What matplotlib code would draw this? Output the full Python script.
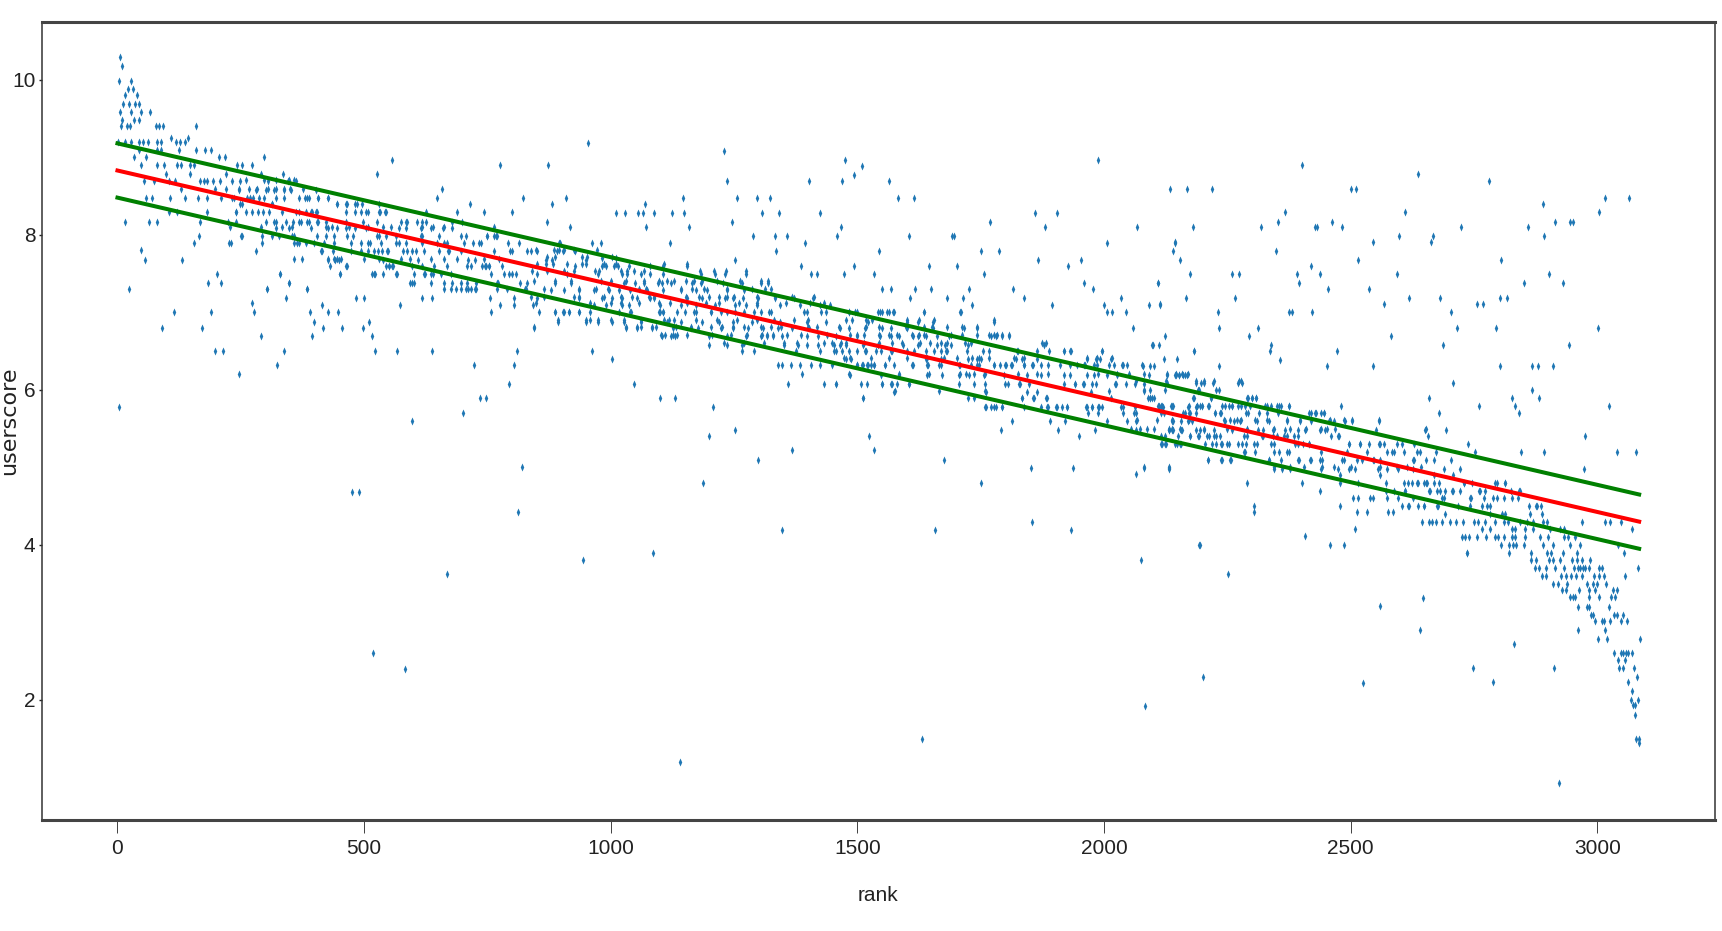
import matplotlib
matplotlib.use('Agg')
import matplotlib.pyplot as plt

# points, grouped by score row: (score, [ranks])
head_rows = [
    (10.30, [5]), (10.18, [9]), (9.99, [3, 27]), (9.88, [32, 21]), (9.81, [39, 15]),
    (9.69, [12, 23, 36, 43]), (9.58, [6, 27, 47, 66]), (9.48, [10, 33, 44]),
    (9.40, [8, 19, 25, 78, 85, 93, 159]),
    (9.25, [109, 144]),
    (9.20, [2, 16, 27, 43, 52, 62, 81, 89, 118, 126, 136]),
    (9.09, [43, 81, 89, 124, 159, 178, 190]),
    (9.00, [33, 58, 206, 218, 297]),
    (8.90, [47, 81, 95, 120, 128, 147, 155, 243, 252, 272]),
    (8.78, [98, 147, 221, 291, 336]),
]

left_rows = [
    (8.70, [54, 74, 105, 116, 167, 175, 182, 194, 208, 233, 248, 306, 345, 361]),
    (8.59, [128, 198, 221, 246, 266, 283, 306, 322, 337, 349, 376]),
    (8.47, [58, 70, 107, 137, 163, 182, 209, 237, 268, 287, 322, 368, 384, 407, 427]),
    (8.40, [248, 314, 446, 465, 485, 496, 531]),
    (8.29, [105, 120, 182, 240, 260, 272, 295, 361, 392, 403, 481, 504, 531, 543, 625]),
    (8.17, [64, 80, 168, 225, 318, 368, 384, 407, 574, 586, 617, 679, 698]),
    (8.10, [229, 291, 334, 353, 423, 434, 469, 508, 539, 555, 617, 640, 663, 764]),
    (7.98, [252, 314, 353, 438, 477, 531, 617, 706, 749, 768]),
    (7.90, [227, 294, 357, 368, 419, 508, 570, 648, 663, 733, 791, 815, 896, 962]),
    (7.79, [415, 508, 528, 547, 586, 605, 671, 795, 838, 850, 892, 904, 927]),
    (7.68, [427, 442, 450, 539, 609, 710, 725, 869, 881, 950]),
    (7.60, [465, 551, 559, 617, 745, 753, 927]),
    (7.49, [452, 520, 539, 567, 624, 640, 784, 799, 850, 912, 974]),
    (7.38, [598, 679, 772, 830, 888, 919]),
    (7.30, [662, 687, 710, 725, 826, 865, 935, 970]),
    (7.18, [756, 803, 850, 935]),
    (7.10, [776, 803, 842, 966]),
    (7.00, [888, 904, 915, 935]),
    (6.88, [894, 950, 974]),
]

mid_rows = [
    (7.70, [983, 1010]),
    (7.60, [983, 991, 1006, 1014, 1037, 1080, 1107]),
    (7.49, [1022, 1034, 1061, 1080, 1107, 1183, 1212, 1231, 1274]),
    (7.38, [1026, 1049, 1068, 1096, 1103, 1123, 1165, 1183, 1228, 1266, 1304, 1318]),
    (7.30, [995, 1057, 1072, 1142, 1165, 1189, 1235, 1286, 1313, 1325]),
    (7.18, [983, 1003, 1022, 1053, 1080, 1088, 1154, 1185, 1231, 1247, 1268, 1299, 1334, 1371, 1410]),
    (7.10, [991, 1022, 1037, 1100, 1142, 1173, 1212, 1251, 1274, 1297, 1344, 1383, 1425, 1445]),
    (7.00, [1041, 1100, 1107, 1150, 1173, 1204, 1235, 1251, 1290, 1321, 1398, 1437, 1484, 1499, 1546, 1561, 1573, 1635]),
    (6.88, [1003, 1026, 1061, 1115, 1142, 1185, 1220, 1247, 1286, 1344, 1398, 1437, 1522, 1600, 1623, 1654]),
    (6.80, [1030, 1053, 1084, 1127, 1162, 1177, 1224, 1247, 1278, 1309, 1340, 1367, 1402, 1464, 1484, 1515, 1550, 1569, 1600, 1654, 1716, 1743]),
    (6.69, [1103, 1123, 1131, 1200, 1235, 1274, 1305, 1317, 1328, 1348, 1398, 1421, 1456, 1499, 1546, 1569, 1584, 1612, 1623, 1639, 1662, 1685, 1771, 1782, 1794, 1808]),
    (6.58, [1200, 1235, 1266, 1352, 1379, 1398, 1421, 1452, 1464, 1476, 1511, 1542, 1592, 1623, 1662, 1677, 1689, 1724, 1879]),
    (6.50, [1266, 1290, 1375, 1425, 1452, 1468, 1515, 1538, 1569, 1600, 1639, 1670, 1681, 1755, 1825, 1918, 1934]),
    (6.40, [1476, 1487, 1639, 1670, 1724, 1743, 1751, 1821, 1833, 1864, 1965, 1984, 1992, 2015]),
    (6.32, [1339, 1348, 1366, 1383, 1406, 1425, 1499, 1511, 1522, 1534, 1557, 1575, 1612, 1643, 1666, 1709, 1743, 1778, 1790, 1802, 1813, 1837, 1856, 1887, 1910, 1945, 1961, 1980, 2011, 2038, 2077]),
    (6.20, [1387, 1484, 1584, 1646, 1709, 1720, 1736, 1759, 1825, 1864, 1887, 1988, 2027, 2050, 2081, 2127, 2147, 2158, 2170]),
    (6.08, [1549, 1569, 1581, 1604, 1759, 1806, 1829, 1848, 1918, 1941, 1957, 1984, 2023, 2062, 2081]),
    (5.98, [1577, 1666, 1759, 2011, 2081, 2190]),
    (5.90, [1724, 1736, 1833, 1856, 1883, 2015, 2089]),
    (5.78, [1759, 1771, 1782, 1794, 1872, 1887, 1902, 1914, 1926, 1965, 1976, 1988, 1996, 2038, 2062, 2112, 2120, 2170, 2186]),
    (5.70, [1968, 1988, 2038, 2065, 2116, 2186]),
    (5.60, [1891, 1922, 2007, 2046, 2065, 2139, 2170]),
    (5.48, [1981, 2065, 2131, 2139, 2158, 2186]),
    (5.40, [2116, 2123, 2151]),
]

right_rows = [
    (6.19, [2146, 2152, 2160, 2168]),
    (6.09, [2127, 2186, 2197, 2203, 2221, 2271, 2279]),
    (6.00, [2094, 2124, 2190, 2227]),
    (5.90, [2094, 2098, 2181, 2216, 2292, 2301, 2308]),
    (5.79, [2109, 2116, 2135, 2140, 2189, 2194, 2199, 2211, 2240, 2253, 2260, 2271, 2285, 2327, 2338, 2351, 2359, 2375, 2480]),
    (5.70, [2160, 2172, 2226, 2238, 2293, 2330, 2353, 2419, 2427, 2441, 2447]),
    (5.60, [2137, 2157, 2179, 2245, 2264, 2275, 2310, 2334, 2371, 2397, 2419, 2456, 2467, 2488, 2502]),
    (5.48, [2131, 2138, 2157, 2194, 2203, 2223, 2260, 2290, 2312, 2323, 2342, 2367, 2393, 2408, 2438, 2449, 2552]),
    (5.40, [2175, 2190, 2209, 2227, 2290, 2323, 2342, 2364, 2386, 2393, 2460, 2475]),
    (5.30, [2116, 2124, 2149, 2157, 2205, 2227, 2238, 2249, 2271, 2279, 2305, 2338, 2393, 2404, 2415, 2497, 2519, 2537, 2559, 2604]),
    (5.20, [2286, 2345, 2371, 2441, 2574, 2589, 2641, 2674]),
    (5.10, [2211, 2238, 2257, 2334, 2359, 2393, 2418, 2438, 2482, 2523, 2545, 2626, 2670, 2704]),
    (4.98, [2345, 2360, 2378, 2441, 2475, 2497, 2508, 2556, 2574, 2596, 2626, 2689, 2722]),
    (4.90, [2478, 2559, 2670, 2707]),
    (4.80, [2478, 2515, 2571, 2608, 2637, 2652, 2729, 2792, 2814]),
    (4.69, [2571, 2589, 2611, 2659, 2681, 2707, 2763, 2825, 2842]),
    (4.61, [2574, 2596, 2626, 2685, 2744, 2789]),
    (4.50, [2604, 2619, 2648, 2678, 2777, 2862, 2877]),
]

tail_rows = [
    (4.80, [2616, 2624, 2634, 2649, 2655, 2670, 2680, 2729, 2746, 2797, 2813]),
    (4.70, [2611, 2661, 2675, 2692, 2705, 2721, 2761, 2773, 2843]),
    (4.60, [2689, 2743, 2771, 2797, 2810, 2827, 2839]),
    (4.50, [2616, 2637, 2648, 2675, 2717, 2743, 2766, 2783, 2876, 2886]),
    (4.40, [2692, 2782, 2807, 2813, 2863, 2888]),
    (4.30, [2645, 2658, 2666, 2674, 2685, 2701, 2714, 2727, 2751, 2759, 2772, 2792, 2810, 2820, 2844, 2857, 2870, 2890, 2898, 2969, 3015, 3026, 3049]),
    (4.20, [2766, 2782, 2827, 2834, 2854, 2869, 2905, 2924, 2932, 3070]),
    (4.10, [2726, 2731, 2741, 2756, 2775, 2793, 2798, 2812, 2827, 2834, 2854, 2883, 2901, 2932, 2941, 2955]),
    (4.00, [2805, 2822, 2830, 2836, 2851, 2891, 2910, 2944, 2966, 3043]),
    (3.90, [2735, 2822, 2866, 2898, 2906, 2930, 2959, 3055]),
    (3.80, [2866, 2876, 2903, 2911, 2924, 2949, 2959, 2970, 2986]),
    (3.70, [2874, 2881, 2896, 2914, 2933, 2952, 2961, 2966, 2971, 2976, 2984, 3003, 3009, 3082]),
    (3.60, [2888, 2896, 2926, 2936, 2947, 2957, 2969, 2994, 3004, 3013, 3057]),
    (3.50, [2910, 2920, 2938, 2979, 2991, 2999, 3018]),
    (3.42, [2928, 2936, 2964, 2984, 2996, 3032, 3040]),
    (3.33, [2945, 2951, 2955, 2984, 3003, 3028, 3036]),
    (3.20, [2962, 2979, 2983, 3023]),
    (3.10, [2987, 2991, 3033, 3040, 3052]),
    (3.02, [2996, 3009, 3014, 3026, 3048, 3060]),
    (2.90, [3016]),
    (2.79, [3001, 3020, 3086]),
    (2.60, [3034, 3048, 3053, 3059, 3063, 3071]),
    (2.52, [3042, 3057]),
    (2.41, [3045, 3053, 3074]),
    (2.30, [3080]), (2.23, [3063]), (2.12, [3070]),
    (2.00, [3068, 3082]), (1.94, [3072, 3076]), (1.80, [3076]),
    (1.50, [3078, 3084]), (1.44, [3084]),
]

# second pass over the band, from closer crops
band_left = [
    (8.71, [260, 297, 321, 348, 358]),
    (8.58, [246, 280, 301, 317, 338, 351, 402]),
    (8.47, [233, 263, 274, 297, 338, 380, 388, 407, 427]),
    (8.40, [253, 314, 445, 463, 481]),
    (8.29, [240, 284, 307, 334, 368, 382, 395, 405, 463, 493, 508, 532, 544]),
    (8.17, [240, 301, 321, 341, 355, 372, 388, 405, 422, 463, 497, 527, 584, 607, 625]),
    (8.09, [321, 348, 392, 426, 446, 463, 481, 503, 571, 584, 615, 635, 659, 679]),
    (7.99, [250, 294, 328, 358, 405, 422, 466, 527, 544, 564, 615, 652, 696, 750, 764, 770]),
    (7.90, [230, 365, 382, 399, 439, 473, 494, 512, 534, 564, 584, 618, 669, 703, 720, 737]),
    (7.79, [280, 412, 436, 473, 494, 520, 537, 549, 578, 598, 621, 652, 672, 696, 764, 800, 831]),
    (7.69, [358, 375, 426, 439, 446, 453, 500, 530, 574, 594, 635, 662, 689, 743, 773]),
    (7.60, [431, 463, 544, 550, 557, 598, 642, 669, 709, 716, 740, 747, 753, 780]),
    (7.49, [330, 451, 517, 523, 564, 601, 621, 635, 655, 676, 757, 794, 807]),
    (7.38, [348, 594, 601, 635, 662, 696, 709, 726, 770, 817]),
    (7.30, [303, 384, 676, 696, 706, 716, 726, 770, 790, 828]),
]

band_mid = [
    (7.90, [897, 981]),
    (7.81, [848, 885, 895, 905, 925, 973]),
    (7.72, [871, 888, 942, 952, 1003]),
    (7.63, [851, 868, 882, 912, 942, 949, 986, 1010, 1108, 1155]),
    (7.53, [841, 871, 905, 925, 969, 976, 1020, 1034, 1047, 1067, 1182, 1209, 1233, 1274]),
    (7.40, [844, 888, 919, 980, 1000, 1030, 1067, 1098, 1115, 1128, 1152, 1169, 1186, 1216, 1263, 1304, 1318]),
    (7.29, [878, 905, 936, 966, 996, 1017, 1040, 1074, 1105, 1142, 1172, 1196, 1236, 1270]),
    (7.20, [838, 865, 925, 936, 986, 1020, 1044, 1077, 1088, 1152, 1179, 1199, 1219, 1236, 1250, 1297, 1334, 1368, 1412]),
    (7.12, [848, 959, 1000, 1020, 1057, 1098, 1121, 1155, 1193, 1219, 1260, 1297, 1355, 1405, 1432]),
    (7.01, [855, 888, 905, 915, 936, 959, 1017, 1040, 1098, 1105, 1135, 1169, 1203, 1223, 1270, 1304, 1324, 1392, 1426, 1483, 1496, 1542, 1550, 1564, 1574, 1635, 1711]),
    (6.90, [893, 949, 959, 974, 1000, 1027, 1061, 1108, 1118, 1128, 1172, 1216, 1257, 1297, 1331, 1372, 1399, 1476, 1490, 1517, 1530, 1601, 1625, 1655, 1777]),
    (6.81, [844, 1030, 1054, 1061, 1084, 1091, 1132, 1162, 1203, 1226, 1247, 1270, 1304, 1324, 1345, 1399, 1419, 1463, 1517, 1544, 1598, 1635, 1652, 1682, 1713, 1743]),
    (6.71, [1101, 1111, 1127, 1134, 1155, 1206, 1243, 1277, 1307, 1317, 1328, 1358, 1385, 1439, 1486, 1500, 1513, 1544, 1564, 1581, 1611, 1625, 1635, 1689, 1713, 1743, 1767, 1777, 1784, 1794, 1807]),
    (6.60, [1230, 1270, 1311, 1351, 1378, 1432, 1449, 1466, 1476, 1513, 1544, 1571, 1591, 1628, 1648, 1669, 1682, 1719, 1730, 1875, 1882]),
    (6.50, [1456, 1483, 1500, 1517, 1547, 1571, 1615, 1655, 1679, 1723, 1767, 1824, 1865, 1888, 1919, 1932, 1996]),
    (6.41, [1473, 1486, 1527, 1564, 1601, 1642, 1675, 1702, 1733, 1746, 1767, 1817, 1838, 1966, 1986, 2017]),
    (6.32, [1449, 1500, 1510, 1520, 1527, 1533, 1557, 1611, 1642, 1669, 1706, 1730, 1746, 1777, 1800, 1811, 1838, 1855, 1872, 1932, 1959, 1986, 2020, 2037, 2047]),
    (6.19, [1486, 1547, 1584, 1642, 1672, 1706, 1726, 1757, 1797, 1844, 1872, 1919, 1932, 1966, 1980, 2007, 2027]),
    (6.08, [1456, 1508, 1520, 1550, 1571, 1604, 1706, 1736, 1800, 1827, 1942, 1959, 1976, 2024, 2044]),
    (5.97, [1574, 1760, 1844, 1865, 1973]),
    (5.89, [1511, 1834, 1858, 1885]),
    (5.78, [1760, 1777, 1794, 1838, 1885, 1905, 1925, 1963, 1976, 1990, 2034]),
]

band_right = [
    (6.31, [2079, 2093, 2101]),
    (6.19, [2091, 2128, 2145, 2152, 2165]),
    (6.11, [2064, 2125, 2186, 2202, 2223, 2273, 2278]),
    (6.00, [2081, 2192, 2233]),
    (5.90, [2094, 2101, 2182, 2216, 2290, 2300, 2309]),
    (5.79, [2111, 2118, 2138, 2172, 2189, 2199, 2212, 2246, 2260, 2277, 2297, 2331, 2355, 2375]),
    (5.70, [2060, 2121, 2165, 2175, 2226, 2236, 2287, 2314, 2415, 2429, 2446]),
    (5.61, [2067, 2108, 2138, 2172, 2243, 2256, 2270, 2277, 2307, 2331, 2371, 2398, 2459, 2486, 2503, 2557]),
    (5.50, [2054, 2074, 2088, 2101, 2131, 2138, 2155, 2202, 2250, 2290, 2344, 2378, 2409, 2439, 2452, 2469, 2652]),
    (5.40, [2175, 2192, 2212, 2223, 2236, 2284, 2321, 2351, 2371, 2476]),
    (5.30, [2118, 2125, 2145, 2155, 2219, 2240, 2253, 2287, 2311, 2344, 2388, 2415, 2496, 2520, 2557, 2567, 2594, 2628]),
    (5.20, [2284, 2307, 2355, 2375, 2493, 2534, 2584, 2608, 2635]),
    (5.10, [2211, 2240, 2256, 2334, 2395, 2419, 2442, 2486, 2513, 2547, 2560, 2628, 2652]),
    (5.00, [2081, 2131, 2344, 2378, 2405, 2442, 2466, 2500, 2560, 2594, 2615, 2642]),
]

# lone points away from the band
outliers_below = [
    (3, 5.78), (23, 7.3), (15, 8.17), (48, 7.8), (56, 7.68), (90, 6.8), (115, 7.0), (131, 7.68),
    (165, 7.98), (155, 7.9), (172, 6.8), (184, 7.38), (202, 7.5), (209, 7.38), (189, 7.0),
    (198, 6.5), (213, 6.5), (246, 6.2), (272, 7.12), (276, 7.0), (291, 6.7), (303, 7.3),
    (323, 6.32), (330, 7.5), (337, 6.5), (341, 7.18), (348, 7.38), (384, 7.3), (391, 7.0),
    (398, 6.88), (394, 6.7), (415, 7.1), (417, 6.8), (427, 7.0), (447, 7.0), (455, 6.8),
    (484, 7.18), (499, 7.18), (498, 6.8), (510, 6.88), (516, 6.7), (522, 6.5), (567, 6.5),
    (573, 7.1), (597, 5.6), (617, 7.18), (638, 7.18), (638, 6.5), (700, 5.7), (723, 6.32),
    (735, 5.9), (747, 5.9), (758, 7.0), (794, 6.08), (804, 6.32), (810, 6.5), (820, 5.0),
    (845, 6.8), (962, 6.5), (476, 4.68), (490, 4.68), (518, 2.6), (583, 2.4), (668, 3.62),
    (812, 4.42), (944, 3.81), (1003, 6.4), (1047, 6.08), (1100, 5.9), (1131, 5.9), (1207, 5.78),
    (1200, 5.4), (1252, 5.48), (1187, 4.8), (1298, 5.1), (1367, 5.22), (1347, 4.19), (1086, 3.89),
    (1524, 5.4), (1533, 5.22), (1512, 5.9), (1675, 5.1), (1750, 4.8), (1657, 4.19), (1852, 4.99),
    (1937, 4.99), (2065, 4.91), (2081, 4.99), (2131, 4.99), (1854, 4.3), (1934, 4.19), (2075, 3.81),
    (1791, 5.48), (1813, 5.6), (1949, 5.4), (1906, 5.48), (1359, 6.08), (1432, 6.08), (1456, 6.08),
    (2193, 4.0), (1141, 1.2), (1632, 1.5), (2083, 1.92), (2200, 2.3), (2252, 3.62),
    (2132, 4.98), (2290, 4.8), (2304, 4.5), (2304, 4.43), (2401, 4.8), (2438, 4.69), (2478, 4.5),
    (2508, 4.2), (2194, 4.0), (2407, 4.11), (2458, 4.0), (2486, 4.0), (2512, 4.42), (2534, 4.42),
    (2576, 4.42), (2585, 4.42), (2505, 4.61), (2514, 4.61), (2540, 4.61), (2545, 4.61), (2735, 3.9),
    (2646, 3.32), (2640, 2.9), (2749, 2.41), (2788, 2.23), (2832, 2.72), (2913, 2.41), (2922, 0.93),
    (2962, 2.9), (2525, 2.22), (2560, 3.21),
]

outliers_above = [
    (526, 8.78), (556, 8.96), (648, 8.47), (658, 8.59), (715, 8.4), (743, 8.29), (775, 8.9),
    (822, 8.47), (800, 8.29), (873, 8.9), (881, 8.4), (870, 8.17), (909, 8.47), (918, 8.1),
    (954, 9.19), (688, 8.29),
    (1229, 9.08), (1235, 8.7), (1474, 8.97), (1493, 8.77), (1509, 8.89), (1402, 8.7), (1469, 8.7),
    (1564, 8.7), (1988, 8.97), (2134, 8.59), (2168, 8.59), (1069, 8.4), (1146, 8.47), (1256, 8.47),
    (1297, 8.47), (1323, 8.47), (1582, 8.47), (1615, 8.47), (1011, 8.28), (1029, 8.28), (1055, 8.28),
    (1065, 8.28), (1088, 8.28), (1124, 8.28), (1148, 8.28), (1307, 8.28), (1342, 8.28), (1424, 8.28),
    (1860, 8.28), (1905, 8.28), (1246, 8.17), (1769, 8.17), (1071, 8.1), (1158, 8.1), (1466, 8.1),
    (1880, 8.1), (2067, 8.1), (2180, 8.1), (1288, 7.98), (1333, 7.98), (1357, 7.98), (1459, 7.98),
    (1605, 7.98), (1692, 7.98), (1695, 7.98), (1120, 7.9), (1394, 7.9), (2006, 7.9), (2144, 7.9),
    (1335, 7.79), (1544, 7.79), (1750, 7.79), (1787, 7.79), (2140, 7.79), (1252, 7.68), (1866, 7.68),
    (1953, 7.68), (2154, 7.68), (1154, 7.6), (1385, 7.6), (1493, 7.6), (1646, 7.6), (1702, 7.6),
    (1928, 7.6), (1406, 7.49), (1418, 7.49), (1472, 7.49), (1534, 7.49), (1757, 7.49), (2174, 7.49),
    (1550, 7.3), (1568, 7.3), (1617, 7.3), (1649, 7.3), (1726, 7.3), (1816, 7.3), (1959, 7.38),
    (1978, 7.3), (2110, 7.38), (1681, 7.18), (1607, 7.18), (1714, 7.18), (1838, 7.18), (2034, 7.18),
    (2166, 7.18), (1732, 7.1), (1895, 7.1), (2000, 7.1), (2091, 7.1), (2114, 7.1), (1709, 7.0),
    (2007, 7.0), (2016, 7.0), (2045, 7.0), (1777, 6.88), (2058, 6.8), (2124, 6.69), (2097, 6.58),
    (2111, 6.58), (2183, 6.5), (1996, 6.5), (2121, 6.4), (2149, 6.4),
    (2401, 8.9), (2636, 8.78), (2780, 8.7), (2220, 8.59), (2500, 8.59), (2511, 8.59), (3015, 8.47),
    (3065, 8.47), (2891, 8.4), (2368, 8.29), (2611, 8.29), (3004, 8.29), (2352, 8.17), (2463, 8.17),
    (2915, 8.17), (2944, 8.17), (2951, 8.17), (2318, 8.1), (2427, 8.1), (2432, 8.1), (2483, 8.1),
    (2723, 8.1), (2859, 8.1), (2599, 7.98), (2667, 7.98), (2893, 7.98), (2664, 7.91), (2143, 7.91),
    (2546, 7.91), (2348, 7.79), (2516, 7.68), (2804, 7.68), (2419, 7.6), (2260, 7.49), (2274, 7.49),
    (2391, 7.49), (2438, 7.49), (2594, 7.49), (2903, 7.49), (2109, 7.38), (2395, 7.38), (2852, 7.38),
    (2930, 7.38), (2455, 7.3), (2537, 7.3), (2265, 7.19), (2618, 7.19), (2682, 7.19), (2802, 7.19),
    (2818, 7.19), (2113, 7.11), (2567, 7.11), (2757, 7.11), (2769, 7.11), (2231, 7.0), (2376, 7.0),
    (2381, 7.0), (2421, 7.0), (2703, 7.0), (2233, 6.8), (2312, 6.8), (2715, 6.8), (2794, 6.8),
    (3002, 6.8), (2295, 6.69), (2581, 6.69), (2100, 6.58), (2339, 6.58), (2687, 6.58), (2942, 6.58),
    (2182, 6.5), (2336, 6.5), (2472, 6.5), (2356, 6.39), (2234, 6.31), (2452, 6.31), (2545, 6.31),
    (2802, 6.31), (2868, 6.31), (2880, 6.31), (2911, 6.31), (2707, 6.09), (2867, 6.0), (2658, 5.9),
    (2828, 5.9), (2882, 5.9), (2834, 5.79), (2842, 5.7), (2761, 5.79), (3024, 5.79), (2680, 5.7),
    (2557, 5.6), (2650, 5.48), (2694, 5.48), (2656, 5.4), (2975, 5.4), (2739, 5.3), (2753, 5.2),
    (2846, 5.2), (2893, 5.2), (3040, 5.2), (3079, 5.2), (2973, 4.98),
]

# fitted line and the band around it, ends only
fit_rank = [0, 3085]
fit_score = [8.83, 4.30]
upper_score = [9.18, 4.65]
lower_score = [8.48, 3.95]

x_ticks = [0, 500, 1000, 1500, 2000, 2500, 3000]
y_ticks = [2, 4, 6, 8, 10]

ranks = []
scores = []
for rows in [head_rows, left_rows, mid_rows, right_rows, tail_rows, band_left, band_mid, band_right]:
    for score, row_ranks in rows:
        for r in row_ranks:
            ranks.append(r)
            scores.append(score)
for r, score in outliers_below + outliers_above:
    ranks.append(r)
    scores.append(score)

fig = plt.figure(figsize=(17.22, 9.31), dpi=100)
ax = fig.add_axes([0.0241, 0.1192, 0.9719, 0.8575])

# the original is stretched, so the dots are tall thin diamonds
dot = [(0, -3), (1.3, 0), (0, 3), (-1.3, 0)]
ax.plot(ranks, scores, linestyle='none', marker=dot, ms=5.8, mew=0, color='#1f77b4')

ax.plot(fit_rank, fit_score, color='red', lw=2.9)
ax.plot(fit_rank, upper_score, color='green', lw=2.9)
ax.plot(fit_rank, lower_score, color='green', lw=2.9)

ax.set_xlim(-154, 3239)
ax.set_ylim(0.45, 10.75)
ax.set_xticks(x_ticks)
ax.set_yticks(y_ticks)

tick_font = ['Liberation Sans', 'DejaVu Sans']
ax.tick_params(axis='x', length=9, width=0.6, pad=5, labelsize=15, colors='#222222')
ax.tick_params(axis='y', length=2.5, width=1, pad=2, labelsize=15, colors='#222222')
for label in ax.get_xticklabels() + ax.get_yticklabels():
    label.set_family(tick_font)

ax.set_xlabel('rank', fontsize=15, family=tick_font, color='#222222')
ax.set_ylabel('userscore', fontsize=16, family='DejaVu Sans', color='#222222')
ax.xaxis.set_label_coords(0.5, -0.083)
ax.yaxis.set_label_coords(-0.0135, 0.5)

for side in ['top', 'bottom']:
    ax.spines[side].set_linewidth(2.2)
    ax.spines[side].set_color('#444444')
for side in ['left', 'right']:
    ax.spines[side].set_linewidth(1.1)
    ax.spines[side].set_color('#333333')

plt.savefig('out.png', dpi=100)
